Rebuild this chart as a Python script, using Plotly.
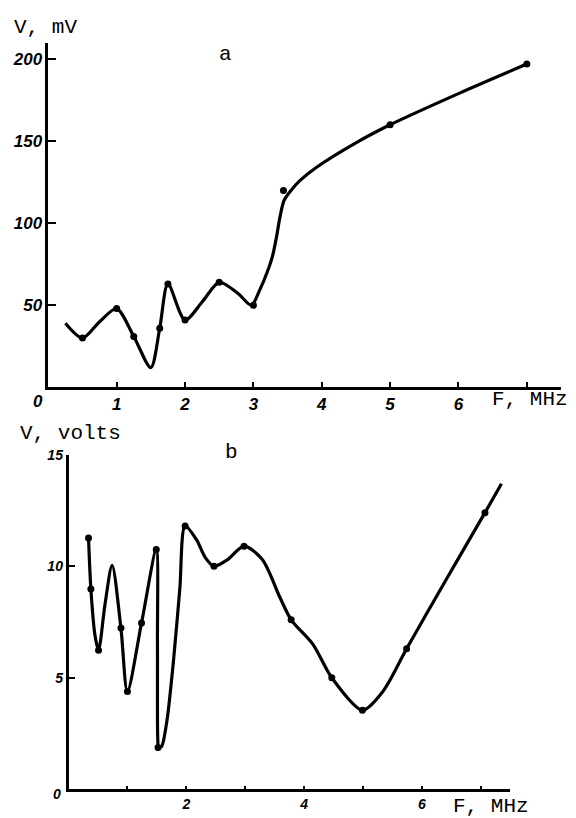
import plotly.graph_objects as go

# ---------- panel a (V, mV vs F, MHz) ----------
a_curve_f = [0.25, 0.5, 0.75, 1.0, 1.25, 1.5, 1.63, 1.75, 2.0, 2.25, 2.5, 2.78, 2.97, 3.1, 3.2,
             3.28, 3.34, 3.39, 3.45, 3.55, 3.68, 3.92, 4.5, 5.0, 6.0, 7.0]
a_curve_v = [39, 30, 40, 48, 31, 12, 36, 63, 41, 52, 64, 57, 50, 60, 70,
             80, 92, 104, 114, 120, 126, 134, 149, 160, 179, 197]
a_pts_f = [0.5, 1.0, 1.25, 1.63, 1.75, 2.0, 2.5, 3.0, 3.44, 5.0, 7.0]
a_pts_v = [30, 48, 31, 36, 63, 41, 64, 50, 120, 160, 197]
a_xticks = [1, 2, 3, 4, 5, 6, 7]
a_xlabels = ["1", "2", "3", "4", "5", "6", ""]
a_yticks = [50, 100, 150, 200]

# ---------- panel b (V, volts vs F, MHz) ----------
b_curve_f = [0.34, 0.38, 0.45, 0.51, 0.62, 0.74, 0.89, 1.0, 1.24, 1.49, 1.51, 1.515, 1.53, 1.58,
             1.67, 1.78, 1.89, 1.98, 2.17, 2.32, 2.47, 2.7, 2.98, 3.29, 3.59, 3.78, 4.15, 4.47,
             4.99, 5.34, 5.74, 6.4, 7.07, 7.35]
b_curve_v = [11.27, 8.98, 6.9, 6.24, 8.3, 10.04, 7.23, 4.39, 7.46, 10.75, 6.5, 2.3, 1.88, 1.92,
             3.06, 5.7, 9.0, 11.8, 11.2, 10.4, 10.0, 10.3, 10.9, 10.3, 8.6, 7.6, 6.5, 5.0,
             3.55, 4.4, 6.3, 9.35, 12.4, 13.7]
b_pts_f = [0.34, 0.38, 0.51, 0.89, 1.0, 1.24, 1.49, 1.52, 1.98, 2.47, 2.98, 3.78, 4.47, 4.99, 5.74, 7.07]
b_pts_v = [11.27, 8.98, 6.24, 7.23, 4.39, 7.46, 10.75, 1.88, 11.8, 10.0, 10.9, 7.6, 5.0, 3.55, 6.3, 12.4]
b_xticks = [1, 2, 3, 4, 5, 6, 7]
b_xlabels = ["", "2", "", "4", "", "6", ""]
b_yticks = [5, 10, 15]

W, H = 576, 818
OFF = 8  # page body margin of the html page
def px(x): return (x - OFF) / W
def py(y): return 1 - (y - OFF) / H

fig = go.Figure()
line_style = dict(color="black", width=3.2, shape="spline", smoothing=0.8)
fig.add_trace(go.Scatter(x=a_curve_f, y=a_curve_v, mode="lines", line=line_style,
                         xaxis="x", yaxis="y", hoverinfo="skip"))
fig.add_trace(go.Scatter(x=a_pts_f, y=a_pts_v, mode="markers",
                         marker=dict(color="black", size=7), xaxis="x", yaxis="y"))
fig.add_trace(go.Scatter(x=b_curve_f, y=b_curve_v, mode="lines", line=line_style,
                         xaxis="x2", yaxis="y2", hoverinfo="skip"))
fig.add_trace(go.Scatter(x=b_pts_f, y=b_pts_v, mode="markers",
                         marker=dict(color="black", size=7), xaxis="x2", yaxis="y2"))

narrow = "Liberation Sans Narrow, Liberation Sans, Arial"
tickfont_a = dict(family=narrow, size=17, color="black", style="italic", weight="bold")
tickfont_b = dict(family=narrow, size=14, color="black", style="italic", weight="bold")
common_axis = dict(showline=True, linecolor="black", linewidth=2.5, showgrid=False,
                   zeroline=False, ticks="inside", tickcolor="black", tickwidth=2)

fig.update_layout(
    width=W, height=H, margin=dict(l=0, r=0, t=0, b=0),
    paper_bgcolor="white", plot_bgcolor="white", showlegend=False,
    xaxis=dict(domain=[px(48.3), px(561)], range=[0, 7.5], anchor="y",
               tickvals=a_xticks, ticktext=a_xlabels, ticklen=6, tickfont=tickfont_a,
               **common_axis),
    yaxis=dict(domain=[py(383), py(35)], range=[0, 210], anchor="x",
               tickvals=a_yticks, ticklen=8, tickfont=tickfont_a, **common_axis),
    xaxis2=dict(domain=[px(68.5), px(510.3)], range=[0, 7.5], anchor="y2",
                tickvals=b_xticks, ticktext=b_xlabels, ticklen=4, tickfont=tickfont_b,
                **common_axis),
    yaxis2=dict(domain=[py(789), py(451)], range=[0, 15], anchor="x2",
                tickvals=b_yticks, ticklen=7, tickfont=tickfont_b, **common_axis),
)

mono = dict(family="Liberation Mono, Courier New, monospace", size=21, color="black")
notes = [
    ("V, mV", 12, 20, "left", mono),
    ("a", 225, 47, "center", mono),
    ("0", 38, 397, "center", tickfont_a),
    ("F, MHz", 490, 395, "left", mono),
    ("V, volts", 18, 430, "left", mono),
    ("b", 231, 449, "center", mono),
    ("0", 57, 794, "center", tickfont_b),
    ("F, MHz", 451, 806, "left", mono),
]
for text, x, y, xa, font in notes:
    fig.add_annotation(text=text, x=px(x), y=py(y), xref="paper", yref="paper",
                       xanchor=xa, yanchor="middle", showarrow=False, font=font)

fig.write_html("out.html")
